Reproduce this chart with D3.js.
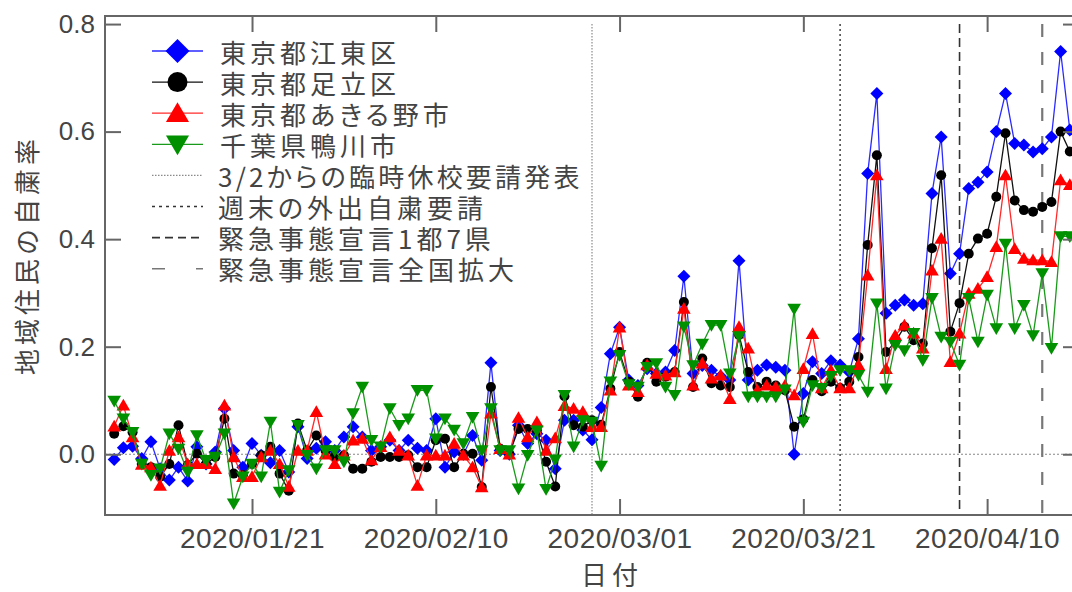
<!DOCTYPE html>
<html>
<head>
<meta charset="utf-8">
<script src="https://cdn.jsdelivr.net/npm/d3@7"></script>
<style>
  html, body { margin: 0; padding: 0; background: #fff; }
  svg { display: block; }
  .legend-label { font-feature-settings: "palt"; }
</style>
</head>
<body>
<svg id="chart" width="1072" height="592"></svg>
<script>
// Daily self-restraint rate of residents, one value per day starting 2020-01-06
const startDate = "2020-01-06";

const koto = [
  -0.010, 0.012, 0.015, -0.008, 0.023, -0.027, -0.048, -0.024, -0.050, 0.014,
  -0.018, 0.004, 0.085, 0.007, -0.024, 0.020, -0.002, -0.016, 0.007, -0.033,
  0.051, -0.008, 0.011, 0.023, 0.007, 0.032, 0.051, 0.032, 0.007, 0.014,
  0.026, 0.007, 0.026, 0.011, 0.007, 0.066, -0.024, 0.004, 0.000, 0.035,
  -0.011, 0.170, 0.007, 0.000, 0.054, 0.020, 0.038, 0.026, -0.027, 0.063,
  0.063, 0.045, 0.027, 0.087, 0.187, 0.236, 0.138, 0.128, 0.159, 0.150,
  0.153, 0.193, 0.331, 0.150, 0.165, 0.156, 0.145, 0.138, 0.360, 0.138,
  0.156, 0.166, 0.162, 0.156, 0.000, 0.113, 0.172, 0.150, 0.174, 0.166,
  0.153, 0.215, 0.522, 0.671, 0.262, 0.277, 0.287, 0.277, 0.280, 0.485,
  0.590, 0.336, 0.373, 0.494, 0.506, 0.525, 0.600, 0.671, 0.578, 0.575,
  0.562, 0.568, 0.590, 0.749, 0.603
];

const adachi = [
  0.038, 0.052, 0.041, -0.018, -0.024, -0.042, -0.018, 0.054, -0.020, 0.001,
  -0.018, -0.005, 0.066, -0.036, -0.039, -0.018, -0.002, 0.014, -0.036, -0.068,
  0.057, 0.007, 0.035, 0.007, -0.005, -0.002, -0.027, -0.027, -0.014, -0.005,
  -0.005, -0.005, -0.002, -0.024, -0.024, 0.026, 0.029, -0.024, 0.001, 0.001,
  -0.061, 0.125, 0.010, 0.001, 0.047, 0.047, 0.044, -0.014, -0.060, 0.108,
  0.054, 0.051, 0.063, 0.055, 0.122, 0.190, 0.135, 0.107, 0.170, 0.135,
  0.144, 0.153, 0.283, 0.125, 0.178, 0.132, 0.128, 0.125, 0.222, 0.153,
  0.125, 0.135, 0.128, 0.119, 0.051, 0.065, 0.138, 0.117, 0.135, 0.123,
  0.135, 0.181, 0.389, 0.556, 0.190, 0.209, 0.237, 0.212, 0.206, 0.383,
  0.519, 0.228, 0.281, 0.373, 0.401, 0.410, 0.479, 0.597, 0.472, 0.454,
  0.451, 0.460, 0.469, 0.600, 0.563
];

const akiruno = [
  0.052, 0.091, 0.032, -0.019, -0.024, -0.058, 0.007, 0.032, -0.018, -0.018,
  -0.018, -0.027, 0.091, -0.005, -0.042, -0.042, -0.005, 0.007, -0.018, -0.060,
  0.007, 0.007, 0.079, 0.000, -0.018, -0.002, 0.026, 0.029, -0.011, 0.014,
  0.032, 0.007, -0.002, -0.058, -0.002, -0.002, -0.002, 0.020, -0.002, -0.024,
  -0.061, 0.076, 0.010, 0.000, 0.068, 0.032, 0.060, 0.007, 0.030, 0.090,
  0.085, 0.079, 0.051, 0.051, 0.119, 0.236, 0.128, 0.116, 0.166, 0.150,
  0.147, 0.153, 0.271, 0.128, 0.169, 0.141, 0.147, 0.103, 0.237, 0.197,
  0.119, 0.128, 0.125, 0.128, 0.110, 0.159, 0.224, 0.123, 0.156, 0.123,
  0.123, 0.166, 0.333, 0.519, 0.159, 0.221, 0.240, 0.225, 0.197, 0.342,
  0.401, 0.172, 0.225, 0.299, 0.308, 0.330, 0.386, 0.519, 0.382, 0.364,
  0.361, 0.361, 0.358, 0.510, 0.501
];

const kamogawa = [
  0.099, 0.066, 0.041, -0.018, -0.039, -0.027, 0.038, 0.010, -0.033, 0.035,
  -0.011, -0.005, 0.038, -0.092, -0.042, -0.018, -0.042, 0.060, -0.070, -0.030,
  0.054, -0.002, -0.027, 0.007, 0.007, -0.014, 0.076, 0.125, 0.026, 0.014,
  0.085, 0.054, 0.066, 0.119, 0.119, 0.029, 0.066, 0.045, 0.020, 0.069,
  0.007, 0.085, 0.007, 0.007, -0.064, -0.002, 0.044, -0.065, -0.010, 0.110,
  0.014, 0.063, 0.060, -0.022, 0.135, 0.184, 0.130, 0.125, 0.162, 0.169,
  0.125, 0.110, 0.237, 0.165, 0.205, 0.240, 0.240, 0.150, 0.219, 0.107,
  0.107, 0.107, 0.107, 0.120, 0.270, 0.060, 0.128, 0.123, 0.145, 0.156,
  0.156, 0.147, 0.116, 0.280, 0.122, 0.203, 0.193, 0.225, 0.175, 0.290,
  0.218, 0.209, 0.166, 0.290, 0.209, 0.296, 0.234, 0.391, 0.234, 0.277,
  0.221, 0.336, 0.197, 0.405, 0.405
];

const seriesNames = ["東京都江東区", "東京都足立区", "東京都あきる野市", "千葉県鴨川市"];
const eventNames = ["3/2からの臨時休校要請発表", "週末の外出自粛要請", "緊急事態宣言1都7県", "緊急事態宣言全国拡大"];
const eventDates = ["2020-02-27", "2020-03-25", "2020-04-07", "2020-04-16"];
const xTickDates = ["2020-01-21", "2020-02-10", "2020-03-01", "2020-03-21", "2020-04-10"];
const xTickLabels = ["2020/01/21", "2020/02/10", "2020/03/01", "2020/03/21", "2020/04/10"];
const yTicks = [0.0, 0.2, 0.4, 0.6, 0.8];
const xDomain = ["2020-01-05", "2020-04-20"];
const yDomain = [-0.113, 0.815];
const xTitle = "日付";
const yTitle = "地域住民の自粛率";

// ---- layout ----
const svg = d3.select("#chart");
const plot = { left: 105, top: 16, right: 1079, bottom: 515 };
const parse = d3.utcParse("%Y-%m-%d");
const t0 = parse(startDate);
const dates = koto.map((_, i) => d3.utcDay.offset(t0, i));

const x = d3.scaleUtc().domain(xDomain.map(parse)).range([plot.left, plot.right]);
const y = d3.scaleLinear().domain(yDomain).range([plot.bottom, plot.top]);

const axisColor = "#666";
const textColor = "#444";

// marker shapes centred at the origin
const shapes = {
  diamond: r => `M0,${-r}L${r},0L0,${r}L${-r},0Z`,
  circle: r => `M${r},0A${r},${r} 0 1,1 ${-r},0A${r},${r} 0 1,1 ${r},0Z`,
  up: r => `M0,${-r}L${r * 1.05},${r * 0.8}L${-r * 1.05},${r * 0.8}Z`,
  down: r => `M0,${r}L${r * 1.05},${-r * 0.8}L${-r * 1.05},${-r * 0.8}Z`
};

const series = [
  { name: seriesNames[0], values: koto,     color: "#0000ff", line: "#2a2aff", shape: "diamond", r: 6.5, lr: 12 },
  { name: seriesNames[1], values: adachi,   color: "#000000", line: "#111111", shape: "circle",  r: 5,   lr: 10 },
  { name: seriesNames[2], values: akiruno,  color: "#ff0000", line: "#ff2a2a", shape: "up",      r: 6.5, lr: 11 },
  { name: seriesNames[3], values: kamogawa, color: "#009000", line: "#1a9a1a", shape: "down",    r: 6.5, lr: 11 }
];

const eventStyles = [
  { stroke: "#8a8a8a", width: 1.2, dash: "1.5,1.5" },
  { stroke: "#333",    width: 1.4, dash: "2,3" },
  { stroke: "#333",    width: 1.6, dash: "9,5" },
  { stroke: "#777",    width: 2.2, dash: "13,15" }
];

// ---- zero reference line ----
svg.append("line")
  .attr("x1", plot.left).attr("x2", plot.right)
  .attr("y1", y(0)).attr("y2", y(0))
  .attr("stroke", "#888").attr("stroke-width", 1.2)
  .attr("stroke-dasharray", "2,2");

// ---- event lines ----
svg.append("g").selectAll("line")
  .data(eventDates)
  .join("line")
  .attr("x1", d => x(parse(d))).attr("x2", d => x(parse(d)))
  .attr("y1", y(0.8)).attr("y2", plot.bottom)
  .attr("stroke", (d, i) => eventStyles[i].stroke)
  .attr("stroke-width", (d, i) => eventStyles[i].width)
  .attr("stroke-dasharray", (d, i) => eventStyles[i].dash);

// ---- data series ----
const lineGen = d3.line().x((d, i) => x(dates[i])).y(d => y(d));

series.forEach(s => {
  const g = svg.append("g");
  g.append("path")
    .attr("d", lineGen(s.values))
    .attr("fill", "none")
    .attr("stroke", s.line)
    .attr("stroke-width", 1.3)
    .attr("stroke-linejoin", "round");
  g.selectAll("path.m")
    .data(s.values)
    .join("path")
    .attr("class", "m")
    .attr("transform", (d, i) => `translate(${x(dates[i])},${y(d)})`)
    .attr("d", shapes[s.shape](s.r))
    .attr("fill", s.color);
});

// ---- frame and axes ----
svg.append("rect")
  .attr("x", plot.left).attr("y", plot.top)
  .attr("width", plot.right - plot.left).attr("height", plot.bottom - plot.top)
  .attr("fill", "none").attr("stroke", axisColor).attr("stroke-width", 2);

const xTicks = xTickDates.map(parse);

const styleAxis = g => {
  g.select(".domain").remove();
  g.selectAll(".tick line").attr("stroke", axisColor).attr("stroke-width", 2);
  g.selectAll(".tick text").attr("fill", textColor);
};

svg.append("g")
  .attr("transform", `translate(0,${plot.bottom})`)
  .call(d3.axisBottom(x).tickValues(xTicks)
    .tickFormat((d, i) => xTickLabels[i])
    .tickSizeInner(-16).tickSizeOuter(0).tickPadding(13))
  .call(styleAxis)
  .selectAll("text")
  .attr("font-family", "'Liberation Sans', Arial, sans-serif")
  .attr("font-size", 28)
  .attr("letter-spacing", 0.5);

svg.append("g")
  .attr("transform", `translate(0,${plot.top})`)
  .call(d3.axisTop(x).tickValues(xTicks).tickFormat("")
    .tickSizeInner(-16).tickSizeOuter(0))
  .call(styleAxis);

svg.append("g")
  .attr("transform", `translate(${plot.left},0)`)
  .call(d3.axisLeft(y).tickValues(yTicks).tickFormat(d3.format(".1f"))
    .tickSizeInner(-16).tickSizeOuter(0).tickPadding(10))
  .call(styleAxis)
  .selectAll("text")
  .attr("font-family", "'Liberation Sans', Arial, sans-serif")
  .attr("font-size", 26);

svg.append("g")
  .attr("transform", `translate(${plot.right},0)`)
  .call(d3.axisRight(y).tickValues(yTicks).tickFormat("")
    .tickSizeInner(-16).tickSizeOuter(0))
  .call(styleAxis);

// ---- axis titles ----
const cjk = "'Noto Sans CJK JP', 'Noto Sans', sans-serif";

svg.append("text")
  .attr("x", 612).attr("y", 573)
  .attr("text-anchor", "middle")
  .attr("dominant-baseline", "central")
  .attr("font-family", cjk).attr("font-size", 26)
  .attr("letter-spacing", 5)
  .attr("fill", textColor)
  .text(xTitle);

svg.append("text")
  .attr("transform", "translate(25,255) rotate(-90)")
  .attr("text-anchor", "middle")
  .attr("dominant-baseline", "central")
  .attr("font-family", cjk).attr("font-size", 26)
  .attr("letter-spacing", 4)
  .attr("fill", textColor)
  .text(yTitle);

// ---- legend ----
const legend = svg.append("g").attr("transform", "translate(152,51)");
const rowH = 31.1;
const sampleW = 51;

series.forEach((s, i) => {
  const row = legend.append("g").attr("transform", `translate(0,${i * rowH})`);
  row.append("line")
    .attr("x1", 0).attr("x2", sampleW).attr("y1", 0).attr("y2", 0)
    .attr("stroke", s.line).attr("stroke-width", 1.3);
  row.append("path")
    .attr("transform", `translate(${sampleW / 2},0)`)
    .attr("d", shapes[s.shape](s.lr))
    .attr("fill", s.color);
  row.append("text")
    .attr("class", "legend-label")
    .attr("x", 68).attr("y", 0)
    .attr("dominant-baseline", "central")
    .attr("font-family", cjk).attr("font-size", 26)
    .attr("letter-spacing", 4)
    .attr("fill", textColor)
    .text(s.name);
});

const legendDash = ["1.5,1.5", "3,4", "8,5", "13,31"];
const legendSpacing = [3.2, 4, 4, 4];
eventNames.forEach((name, j) => {
  const i = j + series.length;
  const row = legend.append("g").attr("transform", `translate(0,${i * rowH})`);
  row.append("line")
    .attr("x1", 0).attr("x2", sampleW).attr("y1", 0).attr("y2", 0)
    .attr("stroke", eventStyles[j].stroke)
    .attr("stroke-width", Math.min(eventStyles[j].width, 1.6))
    .attr("stroke-dasharray", legendDash[j]);
  row.append("text")
    .attr("class", "legend-label")
    .attr("x", 66).attr("y", 0)
    .attr("dominant-baseline", "central")
    .attr("font-family", cjk).attr("font-size", 26)
    .attr("letter-spacing", legendSpacing[j])
    .attr("fill", textColor)
    .text(name);
});
</script>
</body>
</html>
